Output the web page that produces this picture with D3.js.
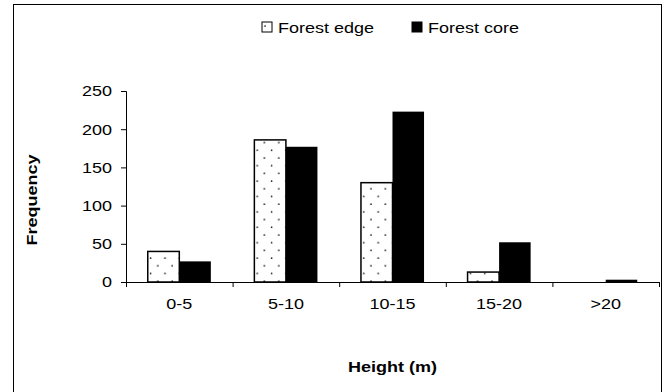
<!DOCTYPE html>
<html>
<head>
<meta charset="utf-8">
<script src="https://cdn.jsdelivr.net/npm/d3@7"></script>
<style>
  html, body { margin: 0; padding: 0; background: #fff; }
  svg text { font-family: "Liberation Sans", Arial, sans-serif; fill: #000; }
</style>
</head>
<body>
<svg id="chart" width="664" height="392"></svg>
<script>
// Height classes and tree counts per class
const categories = ["0-5", "5-10", "10-15", "15-20", ">20"];
const seriesNames = ["Forest edge", "Forest core"];
const forestEdge = [40, 186, 130, 13, 0];
const forestCore = [27, 177, 223, 52, 3];
const yTicks = [0, 50, 100, 150, 200, 250];

const svg = d3.select("#chart");
const plot = { left: 126, right: 659, top: 91, bottom: 282 };
const sx = 1.2; // horizontal stretch of the lettering

// outer chart frame
svg.append("rect")
  .attr("x", 13.5).attr("y", 4.5)
  .attr("width", 648).attr("height", 400)
  .attr("fill", "#fff").attr("stroke", "#000").attr("stroke-width", 1);

// dotted fill for the edge series
const defs = svg.append("defs");
const pat = defs.append("pattern")
  .attr("id", "dots").attr("patternUnits", "userSpaceOnUse")
  .attr("width", 14.4).attr("height", 15.4);
pat.append("rect").attr("width", 14.4).attr("height", 15.4).attr("fill", "#fff");
pat.append("circle").attr("cx", 3).attr("cy", 4).attr("r", 0.85).attr("fill", "#222");
pat.append("circle").attr("cx", 10.2).attr("cy", 11.7).attr("r", 0.85).attr("fill", "#222");

const x0 = d3.scaleBand().domain(categories).range([plot.left, plot.right]).padding(0);
const x1 = d3.scaleBand().domain(seriesNames).range([0, x0.bandwidth()])
  .paddingInner(0).paddingOuter(0.69);
const y = d3.scaleLinear().domain([0, 250]).range([plot.bottom, plot.top]);

const rows = categories.map((c, i) => ({ cat: c, values: [forestEdge[i], forestCore[i]] }));

// bars
const groups = svg.append("g").selectAll("g").data(rows).join("g")
  .attr("transform", d => `translate(${x0(d.cat)},0)`);
groups.selectAll("rect")
  .data(d => d.values.map((v, j) => ({ s: seriesNames[j], v })))
  .join("rect")
  .attr("x", d => x1(d.s))
  .attr("width", x1.bandwidth())
  .attr("y", d => y(d.v))
  .attr("height", d => y(0) - y(d.v))
  .attr("fill", d => d.s === "Forest edge" ? "url(#dots)" : "#000")
  .attr("stroke", d => d.s === "Forest edge" && d.v > 0 ? "#000" : "none")
  .attr("stroke-width", 1.5);

// y axis
const yAxis = svg.append("g").attr("transform", `translate(${plot.left},0)`)
  .call(d3.axisLeft(y).tickValues(yTicks).tickSize(5).tickPadding(9));
yAxis.select(".domain").attr("stroke", "#000");
yAxis.selectAll(".tick line").attr("stroke", "#000");
yAxis.selectAll(".tick text")
  .attr("font-size", 15)
  .each(function () {
    const t = d3.select(this);
    const xx = +t.attr("x");
    t.attr("x", xx / sx).attr("transform", `scale(${sx},1)`);
  });

// x axis line with boundary ticks
const xAxisG = svg.append("g");
xAxisG.append("line")
  .attr("x1", plot.left).attr("x2", plot.right)
  .attr("y1", y(0) + 0.5).attr("y2", y(0) + 0.5)
  .attr("stroke", "#000");
const bounds = categories.map(c => x0(c)).concat([x0(categories[categories.length - 1]) + x0.bandwidth()]);
xAxisG.selectAll("line.tk").data(bounds).join("line")
  .attr("class", "tk")
  .attr("x1", d => d + 0.5).attr("x2", d => d + 0.5)
  .attr("y1", y(0)).attr("y2", y(0) + 5)
  .attr("stroke", "#000");
xAxisG.selectAll("text").data(categories).join("text")
  .attr("transform", c => `translate(${x0(c) + x0.bandwidth() / 2},${y(0) + 27}) scale(${sx},1)`)
  .attr("text-anchor", "middle")
  .attr("font-size", 15)
  .text(c => c);

// axis titles
svg.append("text")
  .attr("transform", `translate(${(plot.left + plot.right) / 2},${y(0) + 90}) scale(${sx},1)`)
  .attr("text-anchor", "middle").attr("font-size", 15).attr("font-weight", "bold")
  .text("Height (m)");
svg.append("text")
  .attr("transform", `translate(37,200) rotate(-90) scale(${sx},1)`)
  .attr("text-anchor", "middle").attr("font-size", 15).attr("font-weight", "bold")
  .text("Frequency");

// legend
const legend = svg.append("g").attr("transform", "translate(262,22)");
const items = legend.selectAll("g").data(seriesNames).join("g")
  .attr("transform", (d, i) => `translate(${i * 150},0)`);
items.append("rect")
  .attr("width", 10).attr("height", 10)
  .attr("fill", d => d === "Forest edge" ? "url(#dots)" : "#000")
  .attr("stroke", "#000").attr("stroke-width", 1);
items.append("text")
  .attr("transform", `translate(16,11) scale(${sx},1)`)
  .attr("font-size", 15)
  .text(d => d);
</script>
</body>
</html>
